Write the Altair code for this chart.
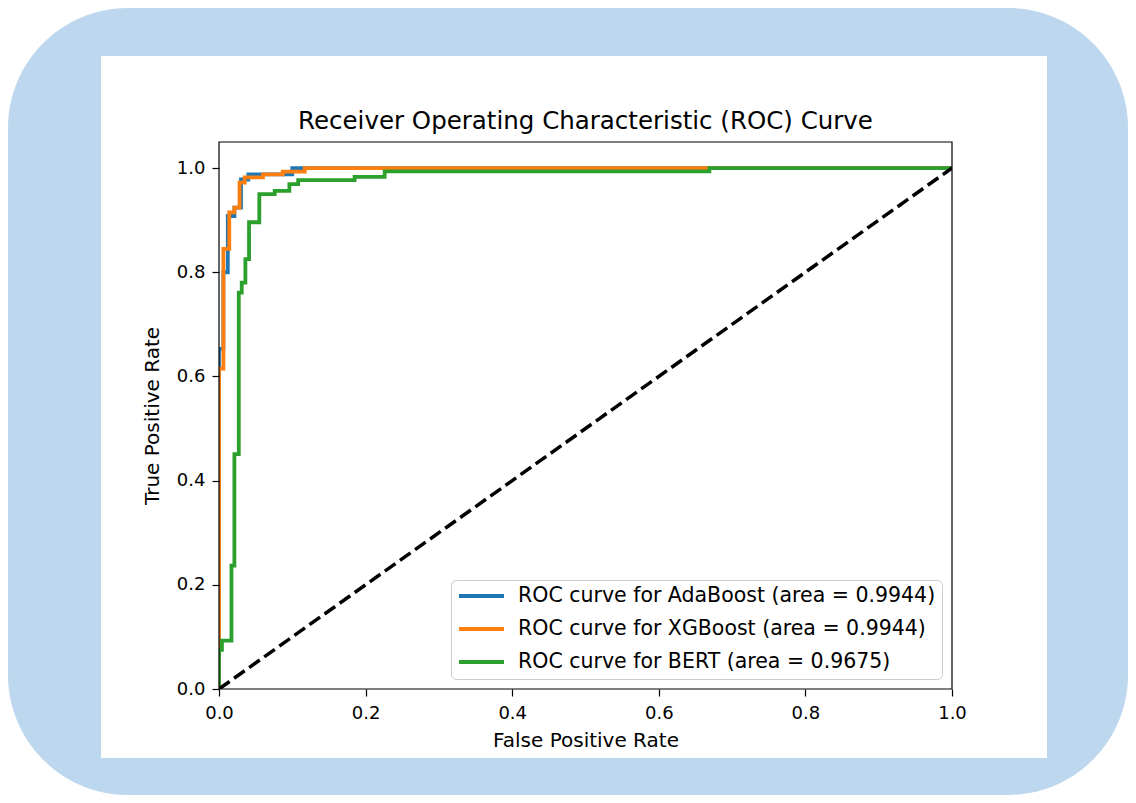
import altair as alt
import pandas as pd

# ---- data ----
labels = [
    "ROC curve for AdaBoost (area = 0.9944)",
    "ROC curve for XGBoost (area = 0.9944)",
    "ROC curve for BERT (area = 0.9675)",
]
colors = ["#1f77b4", "#ff7f0e", "#2ca02c"]
ticks = [0.0, 0.2, 0.4, 0.6, 0.8, 1.0]

ada_fpr = [0, 0, 0.006, 0.006, 0.012, 0.012, 0.021, 0.021, 0.030, 0.030, 0.040, 0.040, 0.100, 0.100, 1.0]
ada_tpr = [0, 0.653, 0.653, 0.800, 0.800, 0.908, 0.908, 0.924, 0.924, 0.978, 0.978, 0.988, 0.988, 1.0, 1.0]

xgb_fpr = [0, 0, 0.006, 0.006, 0.014, 0.014, 0.021, 0.021, 0.028, 0.028, 0.035, 0.035,
           0.060, 0.060, 0.087, 0.087, 0.117, 0.117, 1.0]
xgb_tpr = [0, 0.615, 0.615, 0.845, 0.845, 0.915, 0.915, 0.924, 0.924, 0.972, 0.972, 0.982,
           0.982, 0.988, 0.988, 0.993, 0.993, 1.0, 1.0]

bert_fpr = [0, 0, 0.004, 0.004, 0.017, 0.017, 0.021, 0.021, 0.027, 0.027, 0.031, 0.031,
            0.036, 0.036, 0.041, 0.041, 0.055, 0.055, 0.076, 0.076, 0.096, 0.096,
            0.108, 0.108, 0.185, 0.185, 0.226, 0.226, 0.669, 0.669, 1.0]
bert_tpr = [0, 0.075, 0.075, 0.093, 0.093, 0.237, 0.237, 0.451, 0.451, 0.761, 0.761, 0.780,
            0.780, 0.825, 0.825, 0.896, 0.896, 0.950, 0.950, 0.956, 0.956, 0.969,
            0.969, 0.977, 0.977, 0.983, 0.983, 0.9935, 0.9935, 1.0, 1.0]

diag_fpr = [0.0, 1.0]
diag_tpr = [0.0, 1.0]

FONT = "DejaVu Sans"


def curve_df(fpr, tpr, label):
    return pd.DataFrame({"fpr": fpr, "tpr": tpr, "model": label, "i": list(range(len(fpr)))})


color = alt.Color(
    "model:N",
    scale=alt.Scale(domain=labels, range=colors),
    legend=alt.Legend(
        title=None,
        orient="bottom-right",
        offset=10,
        fillColor="white",
        strokeColor="#cccccc",
        cornerRadius=5,
        padding=6,
        labelFont=FONT,
        labelFontSize=20.5,
        labelColor="black",
        labelLimit=700,
        labelOffset=12,
        symbolType="stroke",
        symbolSize=2025,
        symbolStrokeWidth=3.8,
        clipHeight=20,
        rowPadding=12,
        zindex=1,
    ),
)

x = alt.X(
    "fpr:Q",
    scale=alt.Scale(domain=[0, 1], nice=False, zero=False),
    axis=alt.Axis(values=ticks, format=".1f", title="False Positive Rate", labelPadding=8,
                  titlePadding=8, labelFlush=False, zindex=1),
)
y = alt.Y(
    "tpr:Q",
    scale=alt.Scale(domain=[0, 1.05], nice=False, zero=False),
    axis=alt.Axis(values=ticks, format=".1f", title="True Positive Rate", labelPadding=7,
                  titlePadding=14, labelFlush=False, zindex=1),
)

one = pd.DataFrame({"k": [0]})

bg_blue = alt.Chart(one).mark_rect(color="#BDD7EE", cornerRadius=120).encode(
    x=alt.value(-211), x2=alt.value(909), y=alt.value(-134), y2=alt.value(653)
)
bg_white = alt.Chart(one).mark_rect(color="white").encode(
    x=alt.value(-118), x2=alt.value(828), y=alt.value(-86), y2=alt.value(616)
)

layers = [bg_blue, bg_white]
for fpr, tpr, lab in [(ada_fpr, ada_tpr, labels[0]), (xgb_fpr, xgb_tpr, labels[1]),
                      (bert_fpr, bert_tpr, labels[2])]:
    layers.append(
        alt.Chart(curve_df(fpr, tpr, lab)).mark_line(strokeWidth=3.8, clip=True).encode(
            x=x, y=y, color=color, order="i:Q"
        )
    )

diag = alt.Chart(pd.DataFrame({"fpr": diag_fpr, "tpr": diag_tpr})).mark_line(
    color="black", strokeWidth=3.5, strokeDash=[13, 5.5], clip=True
).encode(x=x, y=y)
layers.append(diag)

frame = alt.Chart(one).mark_rect(fillOpacity=0, stroke="black", strokeWidth=1.2).encode(
    x=alt.value(0), x2=alt.value("width"), y=alt.value(0), y2=alt.value("height")
)
layers.append(frame)

chart = alt.layer(*layers).properties(
    width=733,
    height=547,
    padding={"left": 211, "top": 134, "right": 176, "bottom": 106},
    autosize=alt.AutoSizeParams(type="none"),
    title=alt.TitleParams(
        "Receiver Operating Characteristic (ROC) Curve",
        font=FONT, fontSize=24.5, fontWeight="normal", color="black", offset=7.5, dy=134,
        zindex=1,
    ),
).configure(background="white").configure_view(stroke=None).configure_axis(
    grid=False,
    domain=False,
    labelFont=FONT,
    labelFontSize=18,
    labelColor="black",
    tickColor="black",
    tickSize=7,
    tickWidth=1.2,
    titleFont=FONT,
    titleFontSize=20,
    titleFontWeight="normal",
    titleColor="black",
)

chart.save("out.html", embed_options={"renderer": "svg", "actions": False})
